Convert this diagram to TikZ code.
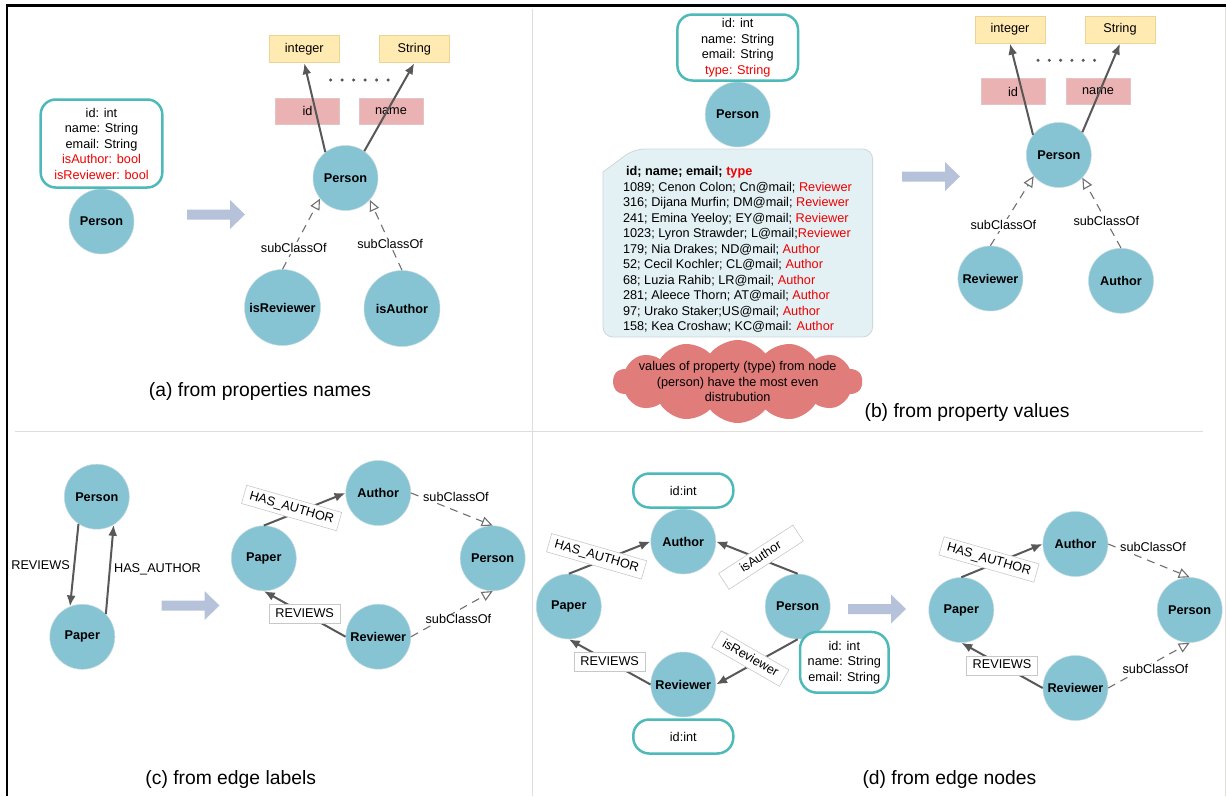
\documentclass[tikz,border=0pt]{standalone}
\usepackage{fontspec}
\setmainfont{Liberation Sans}
\usepackage{xcolor}
\usepackage{tikz}
\usetikzlibrary{arrows.meta,positioning,shapes.symbols}
\definecolor{nodeblue}{RGB}{134,196,212}
\definecolor{nodeedge}{RGB}{196,218,224}
\definecolor{attrteal}{RGB}{78,185,185}
\definecolor{typefill}{RGB}{255,234,178}
\definecolor{typeedge}{RGB}{236,212,150}
\definecolor{propfill}{RGB}{234,178,178}
\definecolor{propedge}{RGB}{226,196,196}
\definecolor{edgegray}{RGB}{88,88,88}
\definecolor{subgray}{RGB}{112,112,112}
\definecolor{lblgray}{RGB}{200,200,200}
\definecolor{arrowfill}{RGB}{182,193,218}
\definecolor{cloudred}{RGB}{224,124,122}
\definecolor{tablefill}{RGB}{227,240,244}
\definecolor{tableedge}{RGB}{205,216,220}
\definecolor{redtxt}{RGB}{240,0,0}
\definecolor{rulegray}{RGB}{224,220,220}
\newcommand{\rt}[1]{\textcolor{redtxt}{#1}}

\begin{document}
\begin{tikzpicture}[x=1pt, y=-1pt,
  font=\fontsize{12.7}{15.5}\selectfont,
  ent/.style={circle, fill=nodeblue, draw=nodeedge, line width=0.5pt,
    minimum size=65pt, inner sep=0pt, font=\fontsize{12.7}{15}\selectfont\bfseries},
  bigent/.style={ent, minimum size=76pt},
  attrbox/.style={draw=attrteal, line width=2.5pt, rounded corners=15pt,
    fill=white, align=center, inner sep=0pt},
  typebox/.style={draw=typeedge, fill=typefill, line width=0.8pt,
    minimum width=70pt, minimum height=27pt, inner sep=0pt},
  propbox/.style={draw=propedge, fill=propfill, line width=0.8pt,
    minimum width=64pt, minimum height=26pt, inner sep=0pt},
  relarr/.style={draw=edgegray, line width=2pt, -{Latex[length=11pt,width=9pt]}},
  subcls/.style={draw=subgray, line width=1.1pt, dash pattern=on 8pt off 6pt,
    -{Triangle[length=11pt,width=10pt,fill=white]}},
  elabel/.style={draw=lblgray, fill=white, line width=0.6pt, inner xsep=6pt,
    inner ysep=3.5pt, text height=9.5pt, text depth=2.5pt},
  sublbl/.style={fill=white, inner sep=1pt},
  tablebox/.style={draw=tableedge, fill=tablefill, line width=0.8pt},
  cloudbox/.style={cloud, cloud puffs=14, cloud puff arc=105, cloud ignores aspect,
    fill=cloudred, minimum width=249pt, minimum height=83pt, inner sep=0pt},
  captxt/.style={font=\fontsize{19.3}{23}\selectfont},
  bigarrow/.pic={\fill[arrowfill] (-29,-5) -- (14,-5) -- (14,-14.5) -- (29,0)
    -- (14,14.5) -- (14,5) -- (-29,5) -- cycle;}]
  \useasboundingbox (0,0) rectangle (1226,796);
  % frame and panel rules
  \draw[line width=2.5pt] (5.5,5.5) -- (1226,5.5);
  \draw[line width=2.5pt] (7,5.5) -- (7,796);
  \draw[rulegray, line width=1pt] (1225,7) -- (1225,796);
  \draw[rulegray, line width=1pt] (532,9) -- (532,796);
  \draw[rulegray, line width=1pt] (15,431) -- (1203,431);

  % (a) from properties names
  \node[ent] (personA0) at (101.5,221.5) {Person};
  \node[attrbox, minimum width=121.6pt, minimum height=88pt, above=0pt of personA0] (attrA)
    {id: int\\name: String\\email: String\\\rt{isAuthor: bool}\\\rt{isReviewer: bool}};
  \pic at (216,214.5) {bigarrow};
  \node[typebox] (intA) at (304.3,49.3) {integer};
  \node[typebox] (strA) at (414.3,49.3) {String};
  \node[propbox] (idA) at (307.5,111) {id};
  \node[propbox] (nameA) at (391,111) {name};
  \foreach \i in {0,...,5} \fill[edgegray] (330.6+11.5*\i,80) circle (1.7pt);
  \node[ent] (personA) at (345.5,178) {Person};
  \node[bigent] (isrevA) at (282.5,307.5) {isReviewer};
  \node[bigent] (isautA) at (402,308.5) {isAuthor};
  \draw[relarr] (personA.128) -- (intA.south);
  \draw[relarr] (personA.55) -- (strA.south);
  \draw[subcls] (isrevA.north) -- node[sublbl, pos=.3] {subClassOf} (personA.219);
  \draw[subcls] (isautA.north) -- node[sublbl, pos=.37] {subClassOf} (personA.318);
  \node[captxt] (capA) at (260,391.5) {(a) from properties names};

  % (b) from property values
  \node[ent] (personB0) at (737.7,114.5) {Person};
  \node[attrbox, minimum width=120.6pt, minimum height=66pt, above=0pt of personB0] (attrB)
    {id: int\\name: String\\email: String\\\rt{type: String}};
  \filldraw[tablebox] (603,250) [rounded corners=10pt] -- (603,337) -- (872.6,337)
    -- (872.6,149) -- (634,149) [sharp corners] -- (603,172) -- cycle;
  \node[align=left, inner sep=0pt] (rowsB) at (737.5,249.5) {%
    \hspace*{3pt}\textbf{id; name; email; \rt{type}}\\
    1089; Cenon Colon; Cn@mail; \rt{Reviewer}\\
    316; Dijana Murfin; DM@mail; \rt{Reviewer}\\
    241; Emina Yeeloy; EY@mail; \rt{Reviewer}\\
    1023; Lyron Strawder; L@mail;\rt{Reviewer}\\
    179; Nia Drakes; ND@mail; \rt{Author}\\
    52; Cecil Kochler; CL@mail; \rt{Author}\\
    68; Luzia Rahib; LR@mail; \rt{Author}\\
    281; Aleece Thorn; AT@mail; \rt{Author}\\
    97; Urako Staker;US@mail; \rt{Author}\\
    158; Kea Croshaw; KC@mail: \rt{Author}};
  \node[cloudbox] (cloudB) at (737.7,381.5) {};
  \node[align=center, inner sep=0pt] (noteB) at (cloudB)
    {values of property (type) from node\\(person) have the most even\\distrubution};
  \pic at (931,176.5) {bigarrow};
  \node[typebox] (intB) at (1010,29.7) {integer};
  \node[typebox] (strB) at (1120,29.7) {String};
  \node[propbox] (idB) at (1013,91.5) {id};
  \node[propbox] (nameB) at (1098,91.5) {name};
  \foreach \i in {0,...,5} \fill[edgegray] (1038+11.3*\i,60.3) circle (1.7pt);
  \node[ent] (personB) at (1058.8,155) {Person};
  \node[ent] (revB) at (990.4,278.5) {Reviewer};
  \node[ent] (autB) at (1121,280.8) {Author};
  \draw[relarr] (personB.142) -- (intB.south);
  \draw[relarr] (personB.44) -- (strB.south);
  \draw[subcls] (revB.north) -- node[sublbl, pos=.3] {subClassOf} (personB.220);
  \draw[subcls] (autB.north) -- node[sublbl, pos=.38] {subClassOf} (personB.316);
  \node[captxt] (capB) at (967,413) {(b) from property values};

  % (c) from edge labels
  \node[ent] (personC0) at (96.8,496.7) {Person};
  \node[ent] (paperC0) at (82.3,636.8) {Paper};
  \draw[relarr] (personC0.236) -- node[left, pos=.5] {REVIEWS} (paperC0.112);
  \draw[relarr] (paperC0.44) -- node[right, pos=.5] {HAS\_AUTHOR} (personC0.301);
  \pic at (190.5,605.5) {bigarrow};
  \node[ent] (paperC) at (263.8,558.3) {Paper};
  \node[ent] (authorC) at (378.3,493) {Author};
  \node[ent] (personC) at (492.7,558.3) {Person};
  \node[ent] (reviewerC) at (378.3,636.7) {Reviewer};
  \draw[relarr] (paperC.north) -- node[elabel, pos=.34, yshift=6.5pt, rotate=-16] {HAS\_AUTHOR} (authorC.west);
  \draw[relarr] (reviewerC.west) -- node[elabel, pos=.5] {REVIEWS} (paperC.south);
  \draw[subcls] (authorC.east) -- node[sublbl, pos=.55, yshift=14pt] {subClassOf} (personC.north);
  \draw[subcls] (reviewerC.east) -- node[sublbl, pos=.58, yshift=-9pt] {subClassOf} (personC.south);
  \node[captxt] (capC) at (230.7,779) {(c) from edge labels};

  % (d) from edge nodes
  \node[ent] (authorD) at (683.3,541.5) {Author};
  \node[ent] (paperD) at (568.8,606.5) {Paper};
  \node[ent] (personD) at (797.7,606.5) {Person};
  \node[ent] (reviewerD) at (683.3,684.5) {Reviewer};
  \node[attrbox, minimum width=100pt, minimum height=34pt, rounded corners=16pt, above=0pt of authorD] (idD1) {id:int};
  \node[attrbox, minimum width=100pt, minimum height=34pt, rounded corners=16pt, below=1pt of reviewerD] (idD2) {id:int};
  \node[attrbox, minimum width=88.6pt, minimum height=60.7pt, rounded corners=17pt] (attrD) at (844.3,662.3)
    {id: int\\name: String\\email: String};
  \draw[relarr] (paperD.north) -- node[elabel, pos=.34, yshift=6.5pt, rotate=-16] {HAS\_AUTHOR} (authorD.west);
  \draw[relarr] (personD.north) -- node[elabel, inner xsep=21pt, pos=.45, yshift=2pt, rotate=33] {isAuthor} (authorD.east);
  \draw[relarr] (personD.south) -- node[elabel, inner xsep=8pt, pos=.58, yshift=7pt, rotate=-30] {isReviewer} (reviewerD.east);
  \draw[relarr] (reviewerD.west) -- node[elabel, pos=.5] {REVIEWS} (paperD.south);
  \pic at (877,609) {bigarrow};
  \node[ent] (paperD2) at (961.3,610) {Paper};
  \node[ent] (authorD2) at (1075.4,544) {Author};
  \node[ent] (personD2) at (1189.7,610) {Person};
  \node[ent] (reviewerD2) at (1075.4,688) {Reviewer};
  \draw[relarr] (paperD2.north) -- node[elabel, pos=.34, yshift=6.5pt, rotate=-16] {HAS\_AUTHOR} (authorD2.west);
  \draw[relarr] (reviewerD2.west) -- node[elabel, pos=.5] {REVIEWS} (paperD2.south);
  \draw[subcls] (authorD2.east) -- node[sublbl, pos=.55, yshift=15pt] {subClassOf} (personD2.north);
  \draw[subcls] (reviewerD2.east) -- node[sublbl, pos=.58, yshift=-7.5pt] {subClassOf} (personD2.south);
  \node[captxt] (capD) at (949.4,779) {(d) from edge nodes};
\end{tikzpicture}
\end{document}
